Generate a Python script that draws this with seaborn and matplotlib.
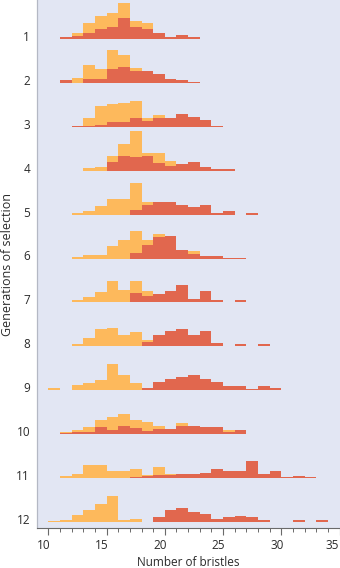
import numpy as np
import pandas as pd
import matplotlib
matplotlib.use("Agg")
import matplotlib.pyplot as plt
from matplotlib.transforms import ScaledTranslation
import seaborn as sns

# ---------------- data ----------------
bin_edges = list(range(10, 36))           # 1-bristle bins, 10..35
generations = [str(g) for g in range(1, 13)]
x_ticks = [10, 15, 20, 25, 30, 35]

# frequency per bin (bins 10-11, 11-12, ..., 34-35) -- light (orange) distribution
light = [
    [0, 2.3, 5.7, 15.7, 23, 26.3, 35.7, 18.3, 15.7, 6, 0, 0, 0, 0, 0, 0, 0, 0, 0, 0, 0, 0, 0, 0, 0],
    [0, 2.7, 5.3, 18.3, 14.3, 32.7, 27.7, 15.3, 0, 0, 0, 0, 0, 0, 0, 0, 0, 0, 0, 0, 0, 0, 0, 0, 0],
    [0, 0, 1.3, 9, 20.7, 23, 24.3, 25.7, 9, 12.3, 0, 0, 0, 0, 0, 0, 0, 0, 0, 0, 0, 0, 0, 0, 0],
    [0, 0, 0, 2.3, 4, 14.7, 26.3, 39.7, 18, 18, 10, 0, 0, 0, 0, 0, 0, 0, 0, 0, 0, 0, 0, 0, 0],
    [0, 0, 1.7, 3.3, 9, 15.7, 15.7, 31.7, 12.3, 0, 0, 0, 0, 0, 0, 0, 0, 0, 0, 0, 0, 0, 0, 0, 0],
    [0, 0, 1.7, 4, 4, 12.3, 19, 27.7, 19, 25, 0, 0, 7.3, 0, 0, 0, 0, 0, 0, 0, 0, 0, 0, 0, 0],
    [0, 0, 2.3, 5.7, 10.7, 21, 12.3, 21, 11, 0, 0, 0, 0, 0, 0, 0, 0, 0, 0, 0, 0, 0, 0, 0, 0],
    [0, 0, 2.7, 8.3, 17.7, 18.3, 11.7, 14.3, 6, 0, 0, 0, 0, 0, 0, 0, 0, 0, 0, 0, 0, 0, 0, 0, 0],
    [2.3, 0, 5.7, 7.3, 10, 26.7, 15, 7.3, 0, 0, 0, 0, 0, 0, 0, 0, 0, 0, 0, 0, 0, 0, 0, 0, 0],
    [0, 2.3, 4.3, 7.3, 14, 17.3, 20, 14, 12.3, 8.3, 5, 11, 0, 0, 0, 4, 0, 0, 0, 0, 0, 0, 0, 0, 0],
    [0, 1.7, 4, 12.7, 12.7, 7.3, 7.3, 9.3, 3.3, 10.7, 4.3, 0, 0, 0, 0, 0, 0, 0, 0, 0, 0, 0, 0, 0, 0],
    [1.3, 2.3, 6.7, 12.3, 18.3, 26.3, 2.3, 3.3, 0, 0, 0, 0, 0, 0, 0, 0, 0, 0, 0, 0, 0, 0, 0, 0, 0],
]
# dark (red) distribution
dark = [
    [0, 2.3, 3.3, 5.7, 9.7, 12.3, 20.7, 12.3, 9.7, 6.3, 2.3, 4, 2.3, 0, 0, 0, 0, 0, 0, 0, 0, 0, 0, 0, 0],
    [0, 2.7, 0, 4.3, 4.3, 14.3, 16, 12, 12, 8.7, 3.7, 2.7, 0.6, 0, 0, 0, 0, 0, 0, 0, 0, 0, 0, 0, 0],
    [0, 0, 1.3, 1.3, 2.3, 5, 5, 9, 6.3, 9, 9, 13.3, 10.3, 7.3, 0.7, 0, 0, 0, 0, 0, 0, 0, 0, 0, 0],
    [0, 0, 0, 0, 0, 8.3, 14.7, 14, 14.7, 7.3, 4.7, 6.7, 8.3, 4, 1.3, 1.3, 0, 0, 0, 0, 0, 0, 0, 0, 0],
    [0, 0, 0, 0, 0, 0, 0, 5, 9.7, 12.3, 12.3, 9.7, 7.3, 9.7, 1.7, 3.3, 0, 1.7, 0, 0, 0, 0, 0, 0, 0],
    [0, 0, 0, 0, 0, 0, 0, 5.7, 13.3, 21.7, 22.3, 8.3, 4.3, 2.3, 2.3, 0.7, 0.7, 0, 0, 0, 0, 0, 0, 0, 0],
    [0, 0, 0, 0, 0, 0, 0, 9.3, 6.7, 8.3, 11, 17.3, 3.3, 11, 2.3, 0, 2.3, 0, 0, 0, 0, 0, 0, 0, 0],
    [0, 0, 0, 0, 0, 0, 0, 0, 4.3, 11.7, 15, 17.7, 11.7, 15, 3.7, 0, 2.3, 0, 2.3, 0, 0, 0, 0, 0, 0],
    [0, 0, 0, 0, 0, 0, 0, 0, 2.7, 8.3, 11.7, 13.3, 15, 11.7, 8.3, 4.3, 4.3, 1, 4.3, 2.7, 0, 0, 0, 0, 0],
    [0, 0.7, 1.7, 1.7, 7.3, 4, 8.3, 5.7, 2.7, 5, 5, 8.3, 7.7, 6.7, 6.7, 2.3, 4, 0, 0, 0, 0, 0, 0, 0, 0],
    [0, 0, 0, 0, 0, 0, 0, 0.7, 2.3, 2.7, 3.3, 4, 4, 5, 9.3, 6.7, 7.3, 16.7, 4, 7.3, 0.7, 1.7, 0.7, 0, 0],
    [0, 0, 0, 0, 0, 0, 0, 0, 0, 4.7, 12.3, 14, 10, 8, 3.3, 4.7, 6.3, 4.7, 2.3, 0, 0, 2.3, 0, 2.3, 0],
]

# ---------------- style ----------------
BG = "#e2e6f3"
LIGHT = "#fdb95c"
DARK = "#e1674e"
TEXT = "#2b2b2b"
FONT = ["Open Sans", "DejaVu Sans"]

sns.set_theme(style="white")
plt.rcParams["font.family"] = FONT

W, H = 340, 568
fig = plt.figure(figsize=(W / 100, H / 100), dpi=100)
fig.patch.set_facecolor("white")

AX_L, AX_R, AX_T, AX_B = 37, 340, 0, 528


def fx(px):
    return px / W


def fy(py):
    return 1 - py / H


ax = fig.add_axes([fx(AX_L), fy(AX_B), fx(AX_R - AX_L), (AX_B - AX_T) / H])
ax.set_facecolor(BG)
XLIM = (9.03, 35.03)
ax.set_xlim(*XLIM)
ax.set_ylim(AX_B, AX_T)  # pixel units from the top

baselines = [39 + 43.9 * i for i in range(len(generations))]

ax.set_yticks([b - 3 for b in baselines])
ax.set_yticklabels(generations, fontsize=8.5, color=TEXT)
ax.tick_params(axis="y", length=0, pad=5)

ax.set_xticks(x_ticks)
ax.set_xticklabels([str(t) for t in x_ticks], fontsize=8.5, color=TEXT)
ax.set_xticks(bin_edges, minor=True)
ax.tick_params(axis="x", which="major", length=5, width=0.8, color="#6a6a6a",
               direction="out", pad=3, bottom=True)
ax.tick_params(axis="x", which="minor", length=3, width=0.7, color="#6a6a6a",
               direction="out", bottom=True)

# tick labels sit slightly left of their ticks in the original
shift = ScaledTranslation(-0.045, 0, fig.dpi_scale_trans)
xlabels = ax.get_xticklabels()
for lbl in xlabels:
    lbl.set_transform(lbl.get_transform() + shift)
xlabels[-1].set_horizontalalignment("right")
xlabels[-1].set_transform(xlabels[-1].get_transform() + ScaledTranslation(0.035, 0, fig.dpi_scale_trans))

for s in ["top", "right"]:
    ax.spines[s].set_visible(False)
ax.spines["left"].set_color("#b4b8c4")
ax.spines["left"].set_linewidth(0.9)
ax.spines["bottom"].set_color("#6a6a6a")
ax.spines["bottom"].set_linewidth(0.8)

ax.set_xlabel("Number of bristles", fontsize=8.5, color=TEXT)
ax.xaxis.set_label_coords(0.5, -(556 - AX_B) / (AX_B - AX_T))
ax.set_ylabel("Generations of selection", fontsize=9, color=TEXT)
ax.yaxis.set_label_coords(-(37 - 14) / (AX_R - AX_L), 0.5)

centers = [e + 0.5 for e in bin_edges[:-1]]
ROW_H = 46
for i, base in enumerate(baselines):
    iax = fig.add_axes([fx(AX_L), fy(base), fx(AX_R - AX_L), ROW_H / H])
    iax.patch.set_visible(False)
    df = pd.DataFrame({"bristles": centers, "light": light[i], "dark": dark[i]})
    sns.histplot(data=df, x="bristles", weights="light", bins=bin_edges,
                 element="step", fill=True, color=LIGHT, alpha=1, linewidth=0, ax=iax)
    sns.histplot(data=df, x="bristles", weights="dark", bins=bin_edges,
                 element="step", fill=True, color=DARK, alpha=1, linewidth=0, ax=iax)
    iax.set_xlim(*XLIM)
    iax.set_ylim(0, ROW_H)
    iax.axis("off")

fig.savefig("out.png", dpi=100, facecolor="white")
